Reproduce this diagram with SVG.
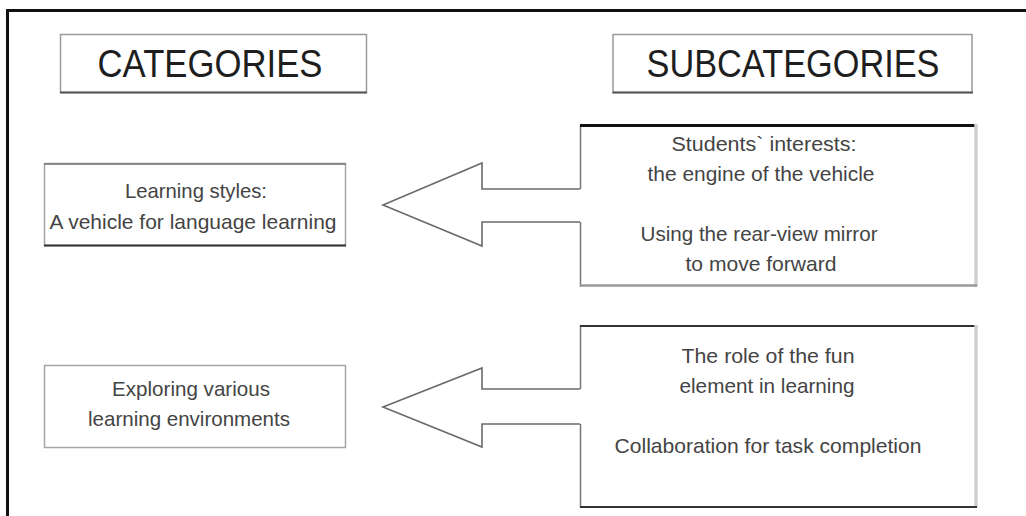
<svg xmlns="http://www.w3.org/2000/svg" width="1026" height="516" viewBox="0 0 1026 516">
  <style>
    .hdr { font-family: "Liberation Sans", Arial, sans-serif; font-size: 39px; fill: #1e1e1e; text-anchor: middle; }
    .lbl { font-family: "Liberation Sans", Arial, sans-serif; font-size: 21px; fill: #444; text-anchor: middle; }
    .conn { fill: none; stroke: #6a6a6a; stroke-width: 1.6; stroke-linejoin: miter; }
  </style>
  <rect x="0" y="0" width="1026" height="516" fill="#ffffff"/>
  <!-- outer frame (top and left sides visible) -->
  <g id="frame">
    <line x1="6" y1="10.5" x2="1026" y2="10.5" stroke="#111" stroke-width="3"/>
    <line x1="7.5" y1="9" x2="7.5" y2="516" stroke="#111" stroke-width="3"/>
  </g>

  <g id="categories-header">
    <rect x="60.5" y="34.5" width="306" height="58" fill="#fff" stroke="#9a9a9a" stroke-width="1.5"/>
    <line x1="60" y1="92.5" x2="367" y2="92.5" stroke="#555" stroke-width="2"/>
    <text class="hdr" x="210" y="77" textLength="225" lengthAdjust="spacingAndGlyphs">CATEGORIES</text>
  </g>

  <g id="subcategories-header">
    <rect x="613" y="34.5" width="359" height="58" fill="#fff" stroke="#9a9a9a" stroke-width="1.5"/>
    <line x1="612.5" y1="92.5" x2="973" y2="92.5" stroke="#555" stroke-width="2"/>
    <text class="hdr" x="793" y="77" textLength="293" lengthAdjust="spacingAndGlyphs">SUBCATEGORIES</text>
  </g>

  <g id="cat-learning-styles">
    <rect x="44.5" y="163.5" width="301" height="82" fill="#fff" stroke="#a5a5a5" stroke-width="1.5"/>
    <line x1="44" y1="164" x2="346" y2="164" stroke="#777" stroke-width="1.5"/>
    <line x1="44" y1="245.5" x2="346" y2="245.5" stroke="#333" stroke-width="2"/>
    <text class="lbl" x="196" y="198" textLength="142" lengthAdjust="spacingAndGlyphs">Learning styles:</text>
    <text class="lbl" x="193" y="229" textLength="287" lengthAdjust="spacingAndGlyphs">A vehicle for language learning</text>
  </g>

  <g id="cat-environments">
    <rect x="44.5" y="365.5" width="301" height="82" fill="#fff" stroke="#a5a5a5" stroke-width="1.5"/>
    <text class="lbl" x="191" y="396" textLength="158" lengthAdjust="spacingAndGlyphs">Exploring various</text>
    <text class="lbl" x="189" y="426" textLength="202" lengthAdjust="spacingAndGlyphs">learning environments</text>
  </g>

  <g id="sub-vehicle">
    <line x1="580.5" y1="125" x2="580.5" y2="189" stroke="#777" stroke-width="1.5"/>
    <line x1="580.5" y1="222" x2="580.5" y2="287" stroke="#777" stroke-width="1.5"/>
    <line x1="580" y1="125.5" x2="977" y2="125.5" stroke="#111" stroke-width="3"/>
    <line x1="976" y1="124" x2="976" y2="287" stroke="#cfcfcf" stroke-width="3.5"/>
    <line x1="580" y1="285.5" x2="977" y2="285.5" stroke="#999" stroke-width="2.5"/>
    <text class="lbl" x="764" y="151" textLength="185" lengthAdjust="spacingAndGlyphs">Students` interests:</text>
    <text class="lbl" x="761" y="181" textLength="227" lengthAdjust="spacingAndGlyphs">the engine of the vehicle</text>
    <text class="lbl" x="759" y="241" textLength="237" lengthAdjust="spacingAndGlyphs">Using the rear-view mirror</text>
    <text class="lbl" x="761" y="271" textLength="151" lengthAdjust="spacingAndGlyphs">to move forward</text>
  </g>

  <g id="sub-environments">
    <line x1="580.5" y1="325" x2="580.5" y2="389" stroke="#777" stroke-width="1.5"/>
    <line x1="580.5" y1="424" x2="580.5" y2="507" stroke="#777" stroke-width="1.5"/>
    <line x1="580" y1="326" x2="977" y2="326" stroke="#333" stroke-width="2"/>
    <line x1="976" y1="325" x2="976" y2="507" stroke="#cfcfcf" stroke-width="3.5"/>
    <line x1="580" y1="507" x2="977" y2="507" stroke="#333" stroke-width="2"/>
    <text class="lbl" x="768" y="363" textLength="173" lengthAdjust="spacingAndGlyphs">The role of the fun</text>
    <text class="lbl" x="767" y="393" textLength="175" lengthAdjust="spacingAndGlyphs">element in learning</text>
    <text class="lbl" x="768" y="453" textLength="307" lengthAdjust="spacingAndGlyphs">Collaboration for task completion</text>
  </g>

  <g id="connectors">
    <path class="conn" d="M580,189 H482 V163 L383,205 L482,246 V222 H580"/>
    <path class="conn" d="M580,389 H482 V368 L383,407 L482,447 V424 H580"/>
  </g>
</svg>
